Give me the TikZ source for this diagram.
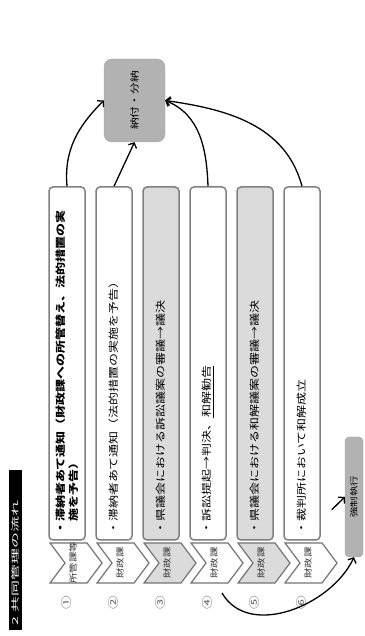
\documentclass[tikz,border=0pt]{standalone}
\usepackage{fontspec}
\setmainfont{Noto Sans CJK JP}[FakeStretch=1.3]
\newfontfamily\titlefont{Noto Sans CJK JP}[FakeStretch=2.0]
\usetikzlibrary{arrows.meta, calc}

\tikzset{
    rowbox/.style={draw=black!50, line width=1.5pt, rounded corners=4pt, rotate=90,
        minimum height=36pt, text width=343pt, inner xsep=5pt, inner ysep=2pt,
        align=left, font=\fontsize{10}{13}\selectfont},
    tagshape/.style={draw=black!55, line width=1.2pt, line join=miter},
    taglabel/.style={rotate=90, inner sep=0pt, font=\fontsize{8}{9}\selectfont, text=black!80},
    numlabel/.style={rotate=90, inner sep=0pt, font=\fontsize{10.5}{11}\selectfont, text=black!65},
    grey box/.style={fill=black!30, draw=black!35, rotate=90},
    flow/.style={-{Straight Barb[length=4pt, width=9pt]}, line width=1.3pt}
}

\begin{document}
\begin{tikzpicture}[x=1pt, y=1pt]
                    \useasboundingbox (0, 0) rectangle (364, 636);
                    \node[fill=black, text=white, rotate=90, minimum width=160pt, minimum height=13pt,
                        text width=152pt, inner xsep=4pt, inner ysep=0pt, align=left,
                        font=\titlefont\fontsize{8}{9}\selectfont] (title) at (15, 86) {2\hspace{5pt}共同管理の流れ};
                    \begin{scope}[shift={(67, 0)}]
                        \draw[tagshape, fill=white] (-17, 93) -- (20, 93) -- (35, 73) -- (20, 53) -- (-17, 53) -- (-2, 73) -- cycle;
                        \node[taglabel] (tag1) at (6, 73) {所管課等};
                        \node[rowbox, fill=white, font=\fontsize{10}{13}\selectfont\bfseries] (row1) at (0, 272.5)
                            {・滞納者あて通知（財政課への所管替え、法的措置の実\\\hspace*{13pt}施を予告）};
                        \node[numlabel] (num1) at (0, 33) {①};
                    \end{scope}
                    \begin{scope}[shift={(114, 0)}]
                        \draw[tagshape, fill=white] (-17, 93) -- (20, 93) -- (35, 73) -- (20, 53) -- (-17, 53) -- (-2, 73) -- cycle;
                        \node[taglabel] (tag2) at (6, 73) {財政課};
                        \node[rowbox, fill=white] (row2) at (0, 272.5) {・滞納者あて通知（法的措置の実施を予告）};
                        \node[numlabel] (num2) at (0, 33) {②};
                    \end{scope}
                    \begin{scope}[shift={(161, 0)}]
                        \draw[tagshape, fill=black!14] (-17, 93) -- (20, 93) -- (35, 73) -- (20, 53) -- (-17, 53) -- (-2, 73) -- cycle;
                        \node[taglabel] (tag3) at (6, 73) {財政課};
                        \node[rowbox, fill=black!14] (row3) at (0, 272.5) {・県議会における訴訟議案の審議→議決};
                        \node[numlabel] (num3) at (0, 33) {③};
                    \end{scope}
                    \begin{scope}[shift={(208, 0)}]
                        \draw[tagshape, fill=white] (-17, 93) -- (20, 93) -- (35, 73) -- (20, 53) -- (-17, 53) -- (-2, 73) -- cycle;
                        \node[taglabel] (tag4) at (6, 73) {財政課};
                        \node[rowbox, fill=white] (row4) at (0, 272.5) {・訴訟提起→判決、\underline{和解勧告}};
                        \node[numlabel] (num4) at (0, 33) {④};
                    \end{scope}
                    \begin{scope}[shift={(255, 0)}]
                        \draw[tagshape, fill=black!14] (-17, 93) -- (20, 93) -- (35, 73) -- (20, 53) -- (-17, 53) -- (-2, 73) -- cycle;
                        \node[taglabel] (tag5) at (6, 73) {財政課};
                        \node[rowbox, fill=black!14] (row5) at (0, 272.5) {・県議会における和解議案の審議→議決};
                        \node[numlabel] (num5) at (0, 33) {⑤};
                    \end{scope}
                    \begin{scope}[shift={(302, 0)}]
                        \draw[tagshape, fill=white] (-17, 93) -- (20, 93) -- (35, 73) -- (20, 53) -- (-17, 53) -- (-2, 73) -- cycle;
                        \node[taglabel] (tag6) at (6, 73) {財政課};
                        \node[rowbox, fill=white] (row6) at (0, 272.5) {・裁判所において和解成立};
                        \node[numlabel] (num6) at (0, 33) {⑥};
                    \end{scope}
                    \node[grey box, rounded corners=8pt, minimum width=83pt, minimum height=61pt,
                        font=\fontsize{9}{11}\selectfont] (nofu) at (134.5, 535.5) {納付・分納};
                    \node[grey box, rounded corners=4pt, minimum width=120pt, minimum height=18pt,
                        inner sep=1pt, font=\fontsize{8}{9}\selectfont] (kyosei) at (354, 139) {強制執行};
                    \draw[flow] (row1.east) to[out=95, in=225] (nofu.north);
                    \draw[flow] (row2.east) -- (nofu.west);
                    \draw[flow] (row4.east) to[out=92, in=-22] (nofu.south);
                    \draw[flow] (row6.east) to[out=105, in=-8] (nofu.south);
                    \draw[flow] ([shift={(11, 31)}]row6.south west) -- (kyosei.north);
                    \draw[flow] ([shift={(14, 10)}]num4.center) to[out=-60, in=-115] (kyosei.west);
                \end{tikzpicture}
\end{document}
